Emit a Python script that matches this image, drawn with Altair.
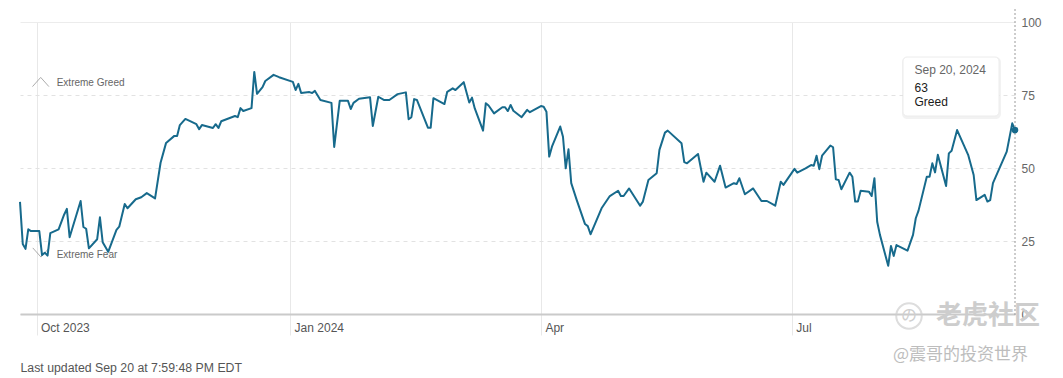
import altair as alt
import pandas as pd

# ---------------- data ----------------
dates = [
    "2023-09-25", "2023-09-26", "2023-09-27", "2023-09-28", "2023-09-29",
    "2023-10-02", "2023-10-03", "2023-10-04", "2023-10-05", "2023-10-06", "2023-10-09", "2023-10-11",
    "2023-10-12", "2023-10-13", "2023-10-17", "2023-10-18", "2023-10-19", "2023-10-20", "2023-10-23",
    "2023-10-24", "2023-10-25", "2023-10-27", "2023-10-30", "2023-10-31",
    "2023-11-02", "2023-11-03", "2023-11-06", "2023-11-08", "2023-11-10", "2023-11-13", "2023-11-15",
    "2023-11-17", "2023-11-20", "2023-11-21", "2023-11-22", "2023-11-24", "2023-11-28", "2023-11-29",
    "2023-11-30",
    "2023-12-04", "2023-12-05", "2023-12-06", "2023-12-07", "2023-12-12", "2023-12-13", "2023-12-14",
    "2023-12-15", "2023-12-18", "2023-12-19", "2023-12-20", "2023-12-22", "2023-12-23", "2023-12-26",
    "2023-12-28",
    "2024-01-02", "2024-01-03", "2024-01-04", "2024-01-05", "2024-01-08", "2024-01-09", "2024-01-10",
    "2024-01-12", "2024-01-16", "2024-01-17", "2024-01-19", "2024-01-22", "2024-01-23", "2024-01-24",
    "2024-01-26", "2024-01-30", "2024-01-31",
    "2024-02-02", "2024-02-04", "2024-02-06", "2024-02-09", "2024-02-12", "2024-02-13", "2024-02-14",
    "2024-02-15", "2024-02-16", "2024-02-20", "2024-02-21", "2024-02-22", "2024-02-26", "2024-02-27",
    "2024-02-29",
    "2024-03-01", "2024-03-04", "2024-03-06", "2024-03-07", "2024-03-08", "2024-03-11", "2024-03-12",
    "2024-03-13", "2024-03-15", "2024-03-18", "2024-03-19", "2024-03-20", "2024-03-21", "2024-03-22",
    "2024-03-25", "2024-03-27", "2024-03-28",
    "2024-04-01", "2024-04-02", "2024-04-03", "2024-04-04", "2024-04-05", "2024-04-08", "2024-04-09",
    "2024-04-10", "2024-04-11", "2024-04-12", "2024-04-14", "2024-04-17", "2024-04-18", "2024-04-19",
    "2024-04-23", "2024-04-26", "2024-04-29", "2024-04-30",
    "2024-05-01", "2024-05-03", "2024-05-07", "2024-05-08", "2024-05-10", "2024-05-13", "2024-05-14",
    "2024-05-16", "2024-05-17", "2024-05-22", "2024-05-23", "2024-05-24", "2024-05-28", "2024-05-30",
    "2024-05-31",
    "2024-06-03", "2024-06-05", "2024-06-07", "2024-06-10", "2024-06-11", "2024-06-12", "2024-06-14",
    "2024-06-17", "2024-06-20", "2024-06-22", "2024-06-25", "2024-06-27", "2024-06-28",
    "2024-07-02", "2024-07-03", "2024-07-06", "2024-07-08", "2024-07-09", "2024-07-10", "2024-07-11",
    "2024-07-12", "2024-07-15", "2024-07-16", "2024-07-17", "2024-07-18", "2024-07-19", "2024-07-22",
    "2024-07-23", "2024-07-24", "2024-07-25", "2024-07-26", "2024-07-29", "2024-07-30", "2024-07-31",
    "2024-08-01", "2024-08-02", "2024-08-05", "2024-08-06", "2024-08-07", "2024-08-08", "2024-08-12",
    "2024-08-14", "2024-08-15", "2024-08-16", "2024-08-19", "2024-08-20", "2024-08-21", "2024-08-22",
    "2024-08-23", "2024-08-26", "2024-08-27", "2024-08-28", "2024-08-30",
    "2024-09-03", "2024-09-05", "2024-09-06", "2024-09-08", "2024-09-09", "2024-09-10", "2024-09-11",
    "2024-09-12", "2024-09-17", "2024-09-19", "2024-09-20",
]

values = [
    38.4, 24, 22.3, 29, 28.4,
    28.4, 20.2, 21, 20, 27.7, 29, 34, 36, 26.3, 38.7, 29.8, 29.2, 22.5, 25.6, 33.1, 24.6, 21.3, 28.8, 29.9,
    37.7, 36.2, 39.3, 40, 41.4, 39.6, 51.8, 58.6, 61, 61, 64.7, 66.8, 65, 63.3, 64.7,
    63.7, 65, 63.7, 66, 67.8, 67.4, 70.5, 69.5, 70.5, 82.9, 75.4, 77.7, 79.8, 81.9, 81.1,
    79.5, 76.7, 78.8, 75.7, 76, 75.7, 76.4, 73.3, 72.3, 57.2, 73, 73, 70.2, 72.3, 73.7, 74.2, 64.4,
    74.4, 73.3, 73.3, 75.3, 75.9, 66.7, 67.4, 73.6, 73.3, 63.8, 63.8, 73.9, 71.9, 76.1, 77.3,
    76.7, 79.4, 72.4, 74.1, 70.4, 62.8, 72.2, 71.4, 68.7, 70.8, 70.8, 69.5, 71.6, 69.6, 67.4, 69.9, 69.1,
    71.2, 71, 69.3, 53.9, 57.3, 64.2, 60.7, 49.9, 56.4, 44.8, 39, 30.8, 30.1, 27.3, 36.2, 40.4, 42.2, 40.4,
    40.4, 43, 37.1, 38.5, 45.9, 48.2, 56.2, 62.1, 62.8, 58.5, 52, 51.6, 54.8, 45.3, 48.4,
    45.3, 50.8, 43.3, 44.8, 44.5, 46.5, 41, 43, 38.7, 38.7, 37.1, 45.3, 44.2,
    49.7, 48.4, 49.9, 51, 50.8, 54.2, 49.6, 54.2, 57.7, 57.1, 46.1, 45.9, 42.7, 48.4, 47, 38.5, 38.5,
    42.2, 41.9, 40.4, 46.5,
    31.6, 27.1, 16.5, 23.3, 19.9, 23.6, 21.7, 27.1, 32.8, 35.4, 47, 47, 51.6, 48.5, 54.5, 43.8, 55, 55.9, 63,
    54.5, 47.6, 39, 40.2, 40.8, 38.5, 39, 44.8, 55.6, 65.3, 63,
]

x_tick_dates = ["2023-10-01", "2024-01-01", "2024-04-01", "2024-07-01"]
x_tick_labels = ["Oct 2023", "Jan 2024", "Apr", "Jul"]
y_ticks = [0, 25, 50, 75, 100]

zone_labels = ["Extreme Greed", "Extreme Fear"]
tooltip_lines = ["Sep 20, 2024", "63", "Greed"]
footer_text = "Last updated Sep 20 at 7:59:48 PM EDT"
watermark_main = "老虎社区"
watermark_sub = "@震哥的投资世界"

# ---------------- build ----------------
df = pd.DataFrame({"date": [d + "T00:00:00" for d in dates], "value": values})
last = df.tail(1)

FONT = "Liberation Sans"
LINE = "#176a8c"


def dt(s):
    y, m, d = (int(p) for p in s.split("-"))
    return alt.DateTime(year=y, month=m, date=d)


label_expr = ""
for s, lab in zip(x_tick_dates, x_tick_labels):
    y, m, _ = (int(p) for p in s.split("-"))
    label_expr += f"(year(datum.value)=={y} && month(datum.value)=={m - 1}) ? '{lab}' : "
label_expr += "''"

x_enc = alt.X(
    "date:T",
    scale=alt.Scale(domain=[dt(dates[0]), dt(dates[-1])], nice=False),
    axis=alt.Axis(
        title=None,
        values=[dt(s) for s in x_tick_dates],
        labelExpr=label_expr,
        grid=True,
        gridColor="#e8e8e8",
        gridWidth=1,
        ticks=True,
        tickSize=21,
        tickColor="#e8e8e8",
        tickWidth=1,
        domain=True,
        domainColor="#cacaca",
        domainWidth=2,
        labelAlign="left",
        labelBaseline="middle",
        labelPadding=-8,
        labelOffset=4,
        labelFlush=False,
        labelFont=FONT,
        labelFontSize=12,
        labelColor="#555555",
    ),
)

y_enc = alt.Y(
    "value:Q",
    scale=alt.Scale(domain=[0, 100], nice=False, zero=True),
    axis=alt.Axis(
        title=None,
        orient="right",
        values=y_ticks,
        grid=True,
        gridColor={"condition": {"test": "datum.value == 100", "value": "#ececec"}, "value": "#e2e2e2"},
        gridDash={"condition": {"test": "datum.value == 100 || datum.value == 0", "value": []}, "value": [4, 4]},
        domain=False,
        ticks=False,
        labelPadding=6,
        labelFont=FONT,
        labelFontSize=12,
        labelColor="#666666",
        labelAlign="left",
        labelBaseline="middle",
    ),
)

one = alt.Data(values=[{}])

# zone annotations (chevrons + labels)
greed_chevron = alt.Chart(one).mark_point(
    shape="M-1,0.56L0,-0.56L1,0.56", filled=False, stroke="#8a8a8a", strokeWidth=1, size=270
).encode(x=alt.value(20.7), y=alt.value(60))
fear_chevron = alt.Chart(one).mark_point(
    shape="M-1,-0.56L0,0.56L1,-0.56", filled=False, stroke="#8a8a8a", strokeWidth=1, size=270
).encode(x=alt.value(21), y=alt.value(230.5))
greed_text = alt.Chart(one).mark_text(
    text=zone_labels[0], align="left", baseline="middle", font=FONT, fontSize=10, color="#666666"
).encode(x=alt.value(36.7), y=alt.value(61.3))
fear_text = alt.Chart(one).mark_text(
    text=zone_labels[1], align="left", baseline="middle", font=FONT, fontSize=10, color="#666666"
).encode(x=alt.value(36.7), y=alt.value(232.7))

line = alt.Chart(df).mark_line(color=LINE, strokeWidth=2, strokeJoin="round").encode(x=x_enc, y=y_enc)

crosshair = alt.Chart(last).mark_rule(color="#9a9a9a", strokeDash=[2, 2], strokeWidth=1).encode(
    x="date:T", y=alt.value(-17), y2=alt.value(293)
)
hover_dot = alt.Chart(last).mark_point(filled=True, color=LINE, size=45, opacity=1).encode(
    x="date:T", y="value:Q"
)

# tooltip box
shadow = alt.Chart(one).mark_rect(fill="#000000", opacity=0.05, cornerRadius=5).encode(
    x=alt.value(882), x2=alt.value(981), y=alt.value(35), y2=alt.value(97)
)
box = alt.Chart(one).mark_rect(fill="#ffffff", stroke="#ececec", strokeWidth=1, cornerRadius=4).encode(
    x=alt.value(883), x2=alt.value(979), y=alt.value(35), y2=alt.value(94)
)
tt_date = alt.Chart(one).mark_text(
    text=tooltip_lines[0], align="left", baseline="middle", font=FONT, fontSize=12, color="#666666"
).encode(x=alt.value(894.5), y=alt.value(48))
tt_val = alt.Chart(one).mark_text(
    text=tooltip_lines[1], align="left", baseline="middle", font=FONT, fontSize=12, color="#1a1a1a"
).encode(x=alt.value(894.5), y=alt.value(65.5))
tt_lab = alt.Chart(one).mark_text(
    text=tooltip_lines[2], align="left", baseline="middle", font=FONT, fontSize=12, color="#1a1a1a"
).encode(x=alt.value(894.5), y=alt.value(80))

footer = alt.Chart(one).mark_text(
    text=footer_text, align="left", baseline="middle", font=FONT, fontSize=12.3, color="#555555"
).encode(x=alt.value(0.5), y=alt.value(346))

# watermark
wm_logo = alt.Chart(one).mark_point(
    shape="circle", filled=False, stroke="#cfcfcf", strokeWidth=2, size=650
).encode(x=alt.value(889), y=alt.value(294))
wm_logo_inner = alt.Chart(one).mark_text(
    text="の", font="Noto Sans CJK SC", fontSize=16, color="#cfcfcf", align="center", baseline="middle"
).encode(x=alt.value(889), y=alt.value(294))
wm_main = alt.Chart(one).mark_text(
    text=watermark_main, align="left", baseline="middle", font="Noto Sans CJK SC", fontSize=26,
    color="#cdcdcd", fontWeight="bold"
).encode(x=alt.value(916), y=alt.value(294))
wm_sub = alt.Chart(one).mark_text(
    text=watermark_sub, align="left", baseline="middle", font="Noto Sans CJK SC", fontSize=17,
    color="#bdbdbd"
).encode(x=alt.value(873), y=alt.value(333))

chart = alt.layer(
    greed_chevron, fear_chevron, greed_text, fear_text,
    line, crosshair, hover_dot,
    shadow, box, tt_date, tt_val, tt_lab,
    footer, wm_logo, wm_logo_inner, wm_main, wm_sub,
).properties(
    width=995,
    height=292,
    padding={"left": 12, "top": 14, "right": 40, "bottom": 62},
    autosize=alt.AutoSizeParams(type="none"),
    background="#ffffff",
).configure_view(stroke=None)

chart.save("out.html", embed_options={"renderer": "svg", "actions": False})
